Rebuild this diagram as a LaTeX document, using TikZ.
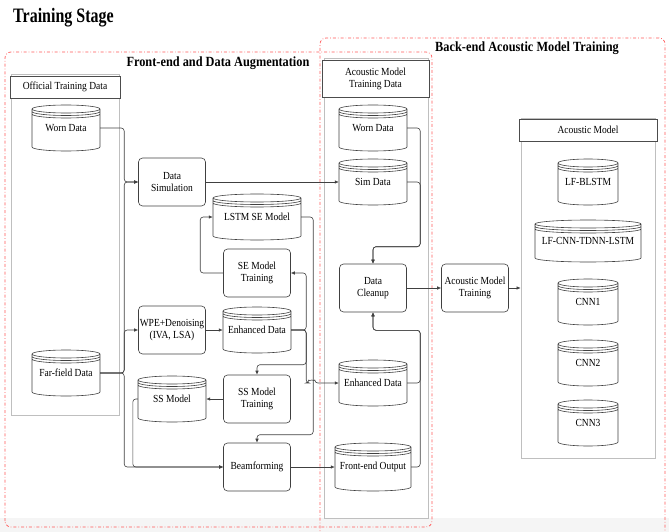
\documentclass[tikz,border=0pt]{standalone}
\usepackage{fontspec}
\setmainfont[FakeStretch=0.88]{Liberation Serif}
\newfontfamily\stagefont[FakeStretch=0.78]{Liberation Serif}
\usetikzlibrary{arrows.meta,calc}

\newcommand{\txtsize}{\fontsize{10.8}{12}\selectfont}
\tikzset{
  proc/.style={draw=black!75, line width=0.6pt, rounded corners=4pt, minimum width=67pt, minimum height=48pt, align=center, inner sep=1pt, font=\txtsize},
  dbtxt/.style={align=center, inner sep=0pt, font=\txtsize},
  dbline/.style={draw=black!75, line width=0.6pt, fill=white},
  conn/.style={draw=black!75, line width=0.6pt, rounded corners=3pt, -{Latex[length=4pt,width=3.5pt]}},
  frame/.style={draw=red!65, line width=0.7pt, dash dot, rounded corners=6pt},
  holder/.style={draw=black!25, line width=0.7pt},
  head/.style={draw=black!70, line width=0.6pt, fill=white, align=center, inner sep=1pt, font=\txtsize},
  ttl/.style={font=\bfseries\fontsize{14}{16}\selectfont}
}
\newcommand{\dbase}[6]{%
  \draw[dbline] (#2-#4,#3-#5+4) -- (#2-#4,#3+#5-4) arc[start angle=180,end angle=360,x radius=#4pt,y radius=4pt] -- (#2+#4,#3-#5+4) arc[start angle=0,end angle=180,x radius=#4pt,y radius=4pt] arc[start angle=180,end angle=360,x radius=#4pt,y radius=4pt]
    (#2-#4,#3-#5+6.5) arc[start angle=180,end angle=360,x radius=#4pt,y radius=4pt]
    (#2-#4,#3-#5+9) arc[start angle=180,end angle=360,x radius=#4pt,y radius=4pt];
  \node[dbtxt, minimum width={2*#4pt}, minimum height={2*#5pt}] (#1) at (#2,#3) {#6};}

\begin{document}
\begin{tikzpicture}[x=1pt, y=-1pt]
  \useasboundingbox (0,0) rectangle (669,532);
  \fill[black!4] (0,518) rectangle (669,532);
  \node[font=\stagefont\bfseries\fontsize{20.5}{22}\selectfont, anchor=west, inner sep=0pt] (stage) at (13,18) {Training Stage};

  \draw[frame] (5,527) rectangle (432,52);
  \draw[frame] (320,536) -- (320,38) -- (665,38) -- (665,536);
  \node[ttl] (fronttitle) at (218,63) {Front-end and Data Augmentation};
  \node[ttl] (backtitle) at (527,48) {Back-end Acoustic Model Training};

  \draw[holder] (11,74) rectangle (119,415);
  \node[head, minimum width=110pt, minimum height=22pt] (offhead) at (65,87) {Official Training Data};
  \draw[holder] (324,58) rectangle (428,518);
  \node[head, minimum width=107pt, minimum height=37pt] (amdhead) at (375.5,78.5) {Acoustic Model\\Training Data};
  \node[holder, minimum width=134pt, minimum height=340pt] (amcont) at (588,288) {};
  \node[head, minimum width=138pt, minimum height=22pt] (amhead) at (588,130) {Acoustic Model};

  \dbase{wornL}{66}{128}{34}{23}{Worn Data}
  \dbase{farL}{66}{373}{34}{23}{Far-field Data}
  \dbase{lstm}{257}{217}{44}{23}{LSTM SE Model}
  \dbase{enhL}{257}{330}{34}{23}{Enhanced Data}
  \dbase{ssm}{172}{399}{34}{23}{SS Model}
  \dbase{wornR}{373}{128}{34}{23}{Worn Data}
  \dbase{simR}{373}{182}{34}{23}{Sim Data}
  \dbase{enhR}{373}{383}{34}{23}{Enhanced Data}
  \dbase{feo}{373}{467}{38}{24}{Front-end Output}
  \dbase{blstm}{588}{182}{30}{23}{LF-BLSTM}
  \dbase{cnntdnn}{588}{241}{53}{21}{LF-CNN-TDNN-LSTM}
  \dbase{cnna}{588}{302}{30}{23}{CNN1}
  \dbase{cnnb}{588}{363}{30}{23}{CNN2}
  \dbase{cnnc}{588}{423}{30}{23}{CNN3}

  \node[proc] (dsim) at (172,182) {Data\\Simulation};
  \node[proc] (setr) at (257,273) {SE Model\\Training};
  \node[proc] (wpe) at (172,330) {WPE+Denoising\\(IVA, LSA)};
  \node[proc] (sstr) at (257,399) {SS Model\\Training};
  \node[proc] (beam) at (257,467) {Beamforming};
  \node[proc] (clean) at (373,288) {Data\\Cleanup};
  \node[proc] (amt) at (475,288) {Acoustic Model\\Training};

  \draw[conn] (wornL.east) -- ++(24,0) |- (dsim.west);
  \draw[conn] (farL.east) -- ++(24,0) |- (dsim.west);
  \draw[conn] (farL.east) -- ++(24,0) |- (wpe.west);
  \draw[conn] (farL.east) -- ++(24,0) |- (beam.west);
  \draw[conn] (ssm.west) -- ++(-5,0) |- (beam.west);
  \draw[conn] (dsim.east) -- (simR.west);
  \draw[conn] (setr.west) -- ++(-23,0) |- (lstm.west);
  \draw[conn] (lstm.east) -- ++(12,0) |- ([yshift=8pt]beam.north) -- (beam.north);
  \draw[conn] (enhL.east) -- ++(15,0) |- (setr.east);
  \draw[conn] (enhL.east) -- ++(15,0) |- ([yshift=10pt]sstr.north) -- (sstr.north);
  \draw[conn] (enhL.east) -- ++(15,0) |- ([xshift=-30pt]enhR.west) arc[start angle=180,end angle=0,radius=3pt] -- (enhR.west);
  \draw[conn] (wpe.east) -- (enhL.west);
  \draw[conn] (sstr.west) -- (ssm.east);
  \draw[conn] (beam.east) -- (feo.west);
  \draw[conn] (wornR.east) -- ++(13,0) |- ([yshift=17pt]clean.north) -- (clean.north);
  \draw[conn] (simR.east) -- ++(13,0) |- ([yshift=17pt]clean.north) -- (clean.north);
  \draw[conn] (enhR.east) -- ++(13,0) |- ([yshift=-18pt]clean.south) -- (clean.south);
  \draw[conn] (feo.east) -- ++(9,0) |- ([yshift=-18pt]clean.south) -- (clean.south);
  \draw[conn] (clean.east) -- (amt.west);
  \draw[conn] (amt.east) -- (amcont.west);
\end{tikzpicture}
\end{document}
